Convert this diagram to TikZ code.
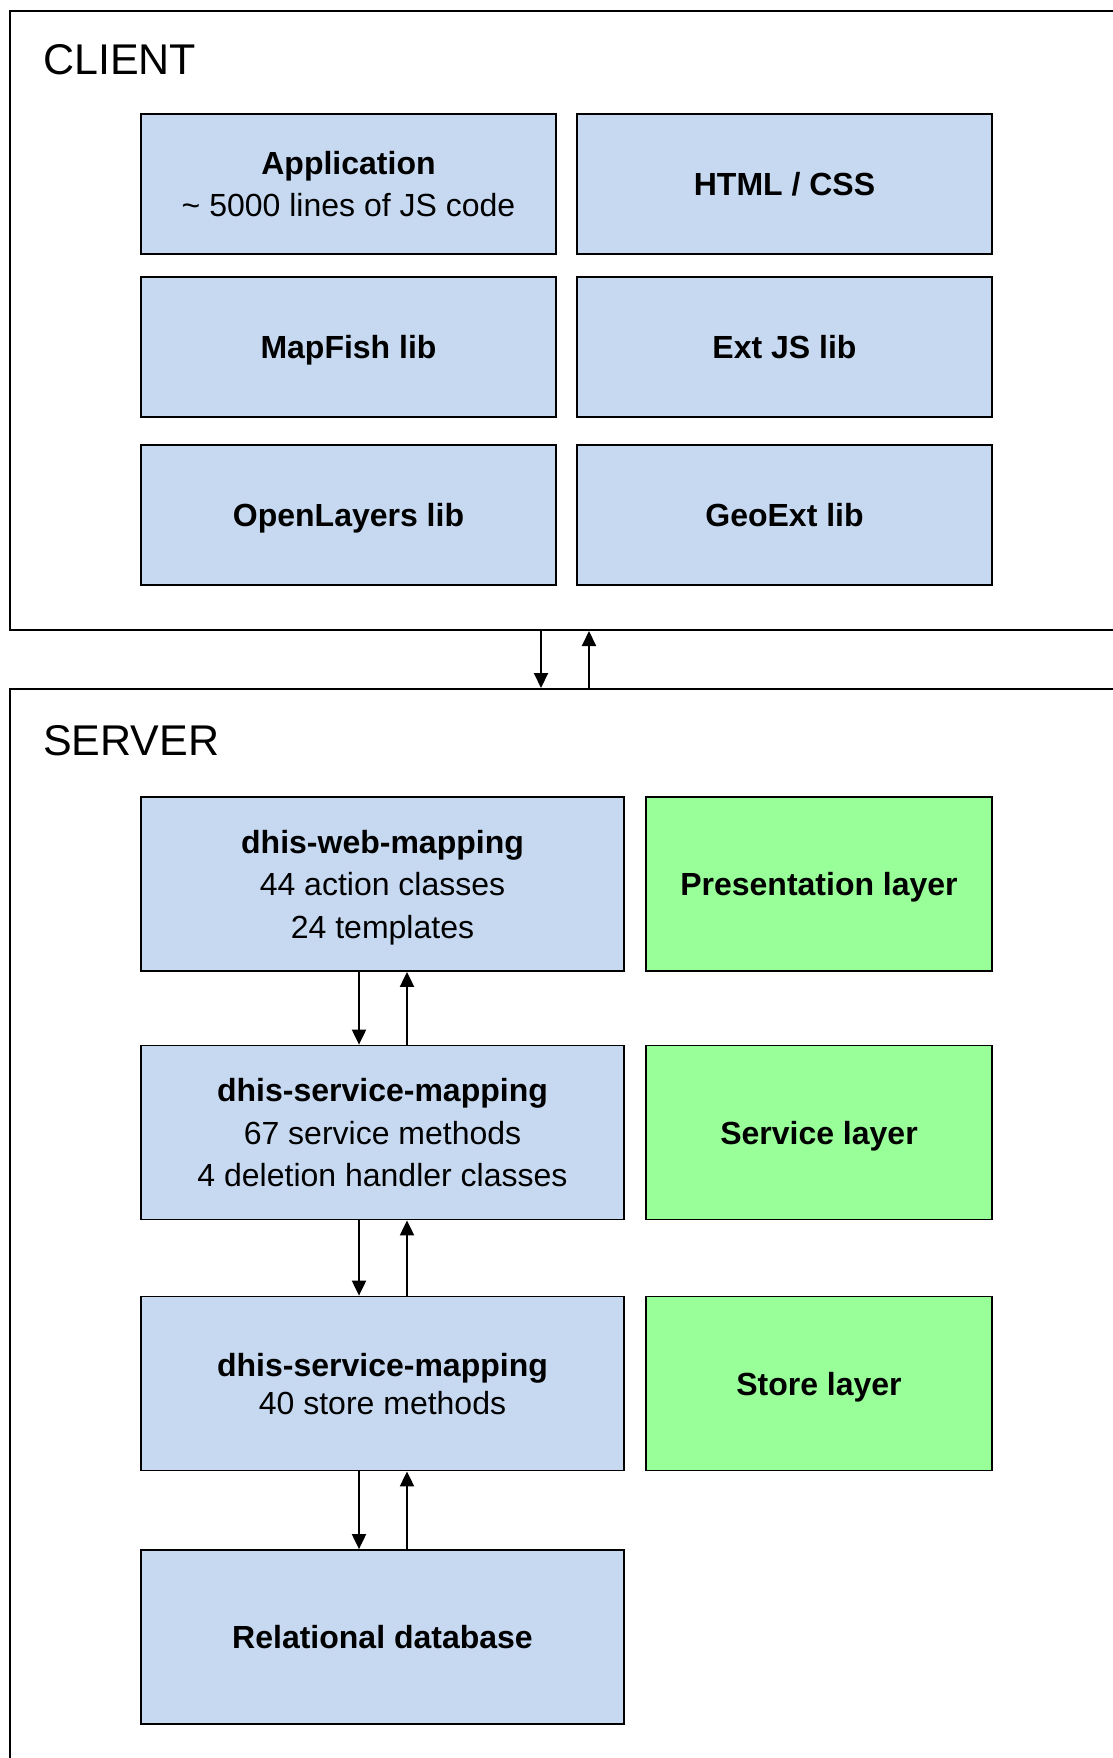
\documentclass[tikz,border=0pt]{standalone}
\usepackage{fontspec}
\setmainfont{Liberation Sans}
\usepackage{xcolor}
\usetikzlibrary{arrows.meta}

\definecolor{partblue}{HTML}{C6D9F0}
\definecolor{layergreen}{HTML}{99FF99}

\begin{document}
\begin{tikzpicture}[x=1pt, y=-1pt, font=\fontsize{32}{42.6}\selectfont,
        part/.style={draw, line width=1.8pt, fill=partblue, align=center, inner sep=0pt, text depth=-6pt},
        layer/.style={draw, line width=1.8pt, fill=layergreen, align=center, inner sep=0pt, text depth=-6pt,
            minimum width=346pt, minimum height=174pt, font=\fontsize{32}{42.6}\selectfont\bfseries},
        frame/.style={draw, line width=2pt, anchor=north west, inner sep=0pt},
        title/.style={anchor=west, inner sep=0pt, font=\fontsize{43}{50}\selectfont},
        arr/.style={-{Triangle[length=15pt, width=14pt]}, line width=2pt}]
            \useasboundingbox (0, 0) rectangle (1113, 1758);

            % client side
            \node[frame, minimum width=1130pt, minimum height=619pt] (client) at (9, 10) {};
            \node[title] (clienttitle) at (43, 60) {CLIENT};

            \node[part, minimum width=415pt, minimum height=140pt] (app) at (348.5, 184) {\textbf{Application}\\\textasciitilde{} 5000 lines of JS code};
            \node[part, minimum width=415pt, minimum height=140pt] (html) at (784.5, 184) {\textbf{HTML / CSS}};
            \node[part, minimum width=415pt, minimum height=140pt] (mapfish) at (348.5, 347) {\textbf{MapFish lib}};
            \node[part, minimum width=415pt, minimum height=140pt] (extjs) at (784.5, 347) {\textbf{Ext JS lib}};
            \node[part, minimum width=415pt, minimum height=140pt] (openlayers) at (348.5, 515) {\textbf{OpenLayers lib}};
            \node[part, minimum width=415pt, minimum height=140pt] (geoext) at (784.5, 515) {\textbf{GeoExt lib}};

            % server side
            \node[frame, minimum width=1130pt, minimum height=1100pt] (server) at (9, 688) {};
            \node[title] (servertitle) at (43, 741) {SERVER};

            \node[part, minimum width=483pt, minimum height=174pt] (web) at (382.5, 884) {\textbf{dhis-web-mapping}\\44 action classes\\24 templates};
            \node[part, minimum width=483pt, minimum height=174pt] (service) at (382.5, 1132.5) {\textbf{dhis-service-mapping}\\67 service methods\\4 deletion handler classes};
            \node[part, minimum width=483pt, minimum height=174pt, font=\fontsize{32}{38}\selectfont] (store) at (382.5, 1383.5) {\textbf{dhis-service-mapping}\\40 store methods};
            \node[part, minimum width=483pt, minimum height=174pt] (db) at (382.5, 1637) {\textbf{Relational database}};

            \node[layer] (presentation) at (819, 884) {Presentation layer};
            \node[layer] (servicelayer) at (819, 1132.5) {Service layer};
            \node[layer] (storelayer) at (819, 1383.5) {Store layer};

            \coordinate (cdown) at (541, 0);
            \coordinate (cup) at (589, 0);
            \coordinate (down) at (359, 0);
            \coordinate (up) at (407, 0);

            \draw[arr] (client.south -| cdown) -- (server.north -| cdown);
            \draw[arr] (server.north -| cup) -- (client.south -| cup);

            \draw[arr] (web.south -| down) -- (service.north -| down);
            \draw[arr] (service.north -| up) -- (web.south -| up);
            \draw[arr] (service.south -| down) -- (store.north -| down);
            \draw[arr] (store.north -| up) -- (service.south -| up);
            \draw[arr] (store.south -| down) -- (db.north -| down);
            \draw[arr] (db.north -| up) -- (store.south -| up);
        \end{tikzpicture}
\end{document}
